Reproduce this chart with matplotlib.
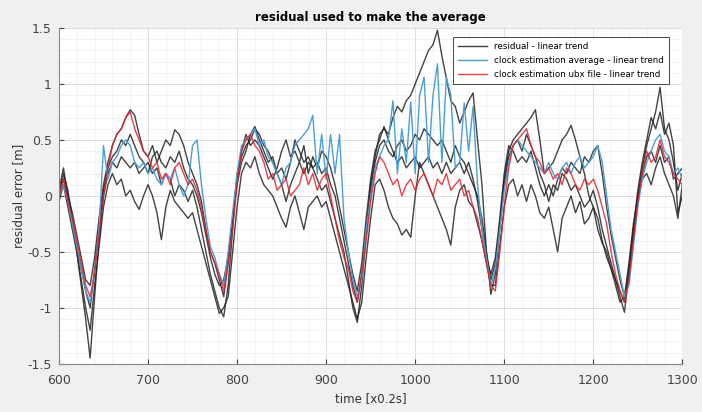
import numpy as np
import matplotlib
matplotlib.use("Agg")
import matplotlib.pyplot as plt
from matplotlib.ticker import MultipleLocator

# sample index (x0.2 s), every 5 samples
t = np.arange(600, 1301, 5)

# residual - linear trend (several runs)
res_a = [0.0, 0.2, 0.05, -0.2, -0.5, -0.8, -1.1, -1.45, -0.9, -0.4,
         0.0, 0.2, 0.3, 0.25, 0.35, 0.3, 0.25, 0.3, 0.2, 0.25,
         0.3, 0.2, 0.25, 0.1, 0.2, 0.15, 0.0, 0.1, 0.05, -0.05,
         0.05, -0.1, -0.3, -0.5, -0.7, -0.85, -1.0, -1.08, -0.8, -0.3,
         0.2, 0.35, 0.45, 0.5, 0.6, 0.55, 0.45, 0.4, 0.3, 0.2,
         0.1, -0.05, 0.1, 0.2, 0.3, 0.2, 0.3, 0.25, 0.15, 0.05,
         0.1, -0.05, -0.2, -0.35, -0.5, -0.75, -1.0, -1.13, -0.8, -0.35,
         0.1, 0.35, 0.55, 0.6, 0.55, 0.7, 0.8, 0.75, 0.85, 0.9,
         1.0, 1.1, 1.2, 1.3, 1.35, 1.48, 1.25, 1.05, 0.85, 0.8,
         0.65, 0.75, 0.85, 0.92, 0.5, 0.1, -0.5, -0.88, -0.7, -0.3,
         0.1, 0.35, 0.45, 0.5, 0.4, 0.55, 0.45, 0.35, 0.2, 0.1,
         -0.05, 0.1, 0.05, 0.2, 0.15, 0.05, 0.1, 0.0, -0.1, -0.05,
         0.05, -0.1, -0.3, -0.45, -0.6, -0.75, -0.9, -1.04, -0.7, -0.35,
         0.0, 0.25, 0.45, 0.6, 0.75, 0.97, 0.6, 0.5, 0.3, 0.05,
         0.2]
res_b = [0.05, 0.25, 0.0, -0.15, -0.35, -0.55, -0.75, -0.8, -0.55, -0.2,
         0.1, 0.3, 0.45, 0.55, 0.6, 0.7, 0.77, 0.72, 0.55, 0.4,
         0.35, 0.45, 0.3, 0.4, 0.5, 0.45, 0.59, 0.55, 0.45, 0.3,
         0.2, 0.1, -0.05, -0.3, -0.5, -0.6, -0.75, -0.9, -0.6, -0.2,
         0.1, 0.3, 0.4, 0.55, 0.62, 0.5, 0.4, 0.3, 0.35, 0.2,
         0.25, 0.15, 0.3, 0.5, 0.4, 0.3, 0.35, 0.25, 0.3, 0.2,
         0.25, 0.1, 0.0, -0.2, -0.4, -0.6, -0.8, -0.95, -0.7, -0.3,
         0.05, 0.3, 0.45, 0.5, 0.4, 0.35, 0.45, 0.5, 0.4, 0.45,
         0.55, 0.5, 0.6, 0.55, 0.5, 0.45, 0.5, 0.4, 0.3, 0.45,
         0.35, 0.3, 0.2, 0.1, 0.0, -0.2, -0.5, -0.75, -0.6, -0.25,
         0.15, 0.4, 0.5, 0.55, 0.6, 0.65, 0.7, 0.77, 0.5, 0.2,
         0.25, 0.3, 0.4, 0.5, 0.55, 0.63, 0.5, 0.35, 0.2, 0.0,
         -0.1, -0.2, -0.4, -0.55, -0.65, -0.75, -0.85, -0.95, -0.65, -0.3,
         0.05, 0.3, 0.5, 0.7, 0.6, 0.75, 0.55, 0.65, 0.45, -0.15,
         0.0]
res_c = [-0.05, 0.1, -0.1, -0.3, -0.5, -0.75, -1.0, -1.2, -0.8, -0.45,
         -0.1, 0.1, 0.2, 0.1, 0.15, 0.0, 0.05, -0.05, -0.12, 0.0,
         0.1, 0.0, -0.15, -0.39, -0.1, 0.05, -0.05, -0.1, -0.15, -0.2,
         -0.15, -0.3, -0.45, -0.6, -0.75, -0.9, -1.05, -1.0, -0.9, -0.5,
         -0.1, 0.2, 0.3, 0.25, 0.35, 0.2, 0.1, 0.05, 0.0, -0.1,
         -0.2, -0.28, -0.1, 0.0, -0.15, -0.3, -0.1, -0.05, 0.0, -0.1,
         -0.05, -0.2, -0.35, -0.5, -0.65, -0.8, -0.95, -1.1, -0.95, -0.55,
         -0.2, 0.1, 0.15, 0.05, -0.1, -0.2, -0.25, -0.35, -0.3, -0.37,
         0.0, 0.3, 0.2, 0.1, 0.0, -0.1, -0.2, -0.3, -0.44, -0.1,
         0.05, 0.1, -0.05, -0.1, -0.25, -0.4, -0.6, -0.8, -0.8, -0.45,
         -0.1, 0.1, 0.15, 0.0, 0.1, -0.05, 0.1, 0.0, -0.15, -0.2,
         -0.1, -0.3, -0.5, -0.2, -0.1, 0.0, -0.15, -0.05, -0.25, -0.2,
         -0.1, -0.3, -0.42, -0.5, -0.65, -0.8, -0.95, -0.9, -0.6, -0.25,
         0.0, 0.15, 0.2, 0.1, 0.25, 0.35, 0.2, 0.1, 0.0, -0.2,
         0.1]
res_d = [0.0, 0.15, 0.0, -0.25, -0.45, -0.65, -0.85, -1.0, -0.65, -0.3,
         0.05, 0.25, 0.35, 0.4, 0.5, 0.45, 0.55, 0.45, 0.35, 0.3,
         0.2, 0.35, 0.4, 0.3, 0.25, 0.35, 0.3, 0.4, 0.25, 0.15,
         0.1, 0.0, -0.15, -0.35, -0.55, -0.7, -0.8, -0.75, -0.55, -0.2,
         0.15, 0.4, 0.55, 0.45, 0.5, 0.45, 0.35, 0.25, 0.15, 0.25,
         0.4, 0.5, 0.35, 0.4, 0.3, 0.45, 0.2, 0.35, 0.25, 0.4,
         0.35, 0.25, 0.1, -0.1, -0.3, -0.5, -0.7, -0.85, -0.6, -0.2,
         0.15, 0.4, 0.5, 0.62, 0.5, 0.4, 0.3, 0.35, 0.25, 0.3,
         0.35, 0.25, 0.3, 0.35, 0.25, 0.3, 0.2, 0.3, 0.2, 0.25,
         0.3, 0.2, 0.3, 0.15, -0.05, -0.3, -0.55, -0.7, -0.55, -0.2,
         0.2, 0.45, 0.4, 0.3, 0.35, 0.3, 0.4, 0.25, 0.1, 0.0,
         0.1, 0.0, 0.15, 0.25, 0.2, 0.3, 0.25, 0.2, 0.35, 0.3,
         0.4, 0.45, 0.2, -0.1, -0.35, -0.55, -0.75, -0.9, -0.75, -0.4,
         -0.05, 0.2, 0.35, 0.4, 0.3, 0.45, 0.3, 0.35, 0.15, 0.2,
         0.25]

# clock estimation average - linear trend
avg = [0.0, 0.1, -0.05, -0.25, -0.45, -0.65, -0.85, -0.95, -0.7, -0.3,
       0.45, 0.15, 0.3, 0.35, 0.45, 0.5, 0.45, 0.3, 0.25, 0.3,
       0.2, 0.25, 0.15, 0.1, 0.2, 0.15, 0.25, 0.1, 0.0, 0.1,
       0.45, 0.5, 0.1, -0.2, -0.45, -0.55, -0.7, -0.8, -0.5, -0.15,
       0.2, 0.45, 0.5, 0.55, 0.6, 0.45, 0.5, 0.35, 0.3, 0.2,
       0.1, 0.25, 0.3, 0.45, 0.5, 0.55, 0.6, 0.72, 0.2, 0.55,
       0.15, 0.55, 0.2, 0.55, -0.2, -0.5, -0.75, -0.9, -0.75, -0.3,
       0.0, 0.25, 0.35, 0.45, 0.5, 0.85, 0.2, 0.6, 0.3, 0.84,
       0.2, 0.9, 1.06, 0.3, 0.9, 1.18, 0.3, 1.06, 0.9, 0.25,
       0.3, 0.83, 0.4, 0.8, 0.1, -0.3, -0.55, -0.8, -0.65, -0.3,
       0.05, 0.3, 0.45, 0.5, 0.45, 0.4, 0.35, 0.3, 0.25, 0.2,
       0.3, 0.2, 0.15, 0.25, 0.3, 0.2, 0.3, 0.35, 0.25, 0.3,
       0.35, 0.45, 0.3, 0.0, -0.3, -0.5, -0.7, -0.9, -0.8, -0.45,
       -0.1, 0.15, 0.3, 0.4, 0.5, 0.55, 0.4, 0.35, 0.2, 0.25,
       0.15]

# clock estimation ubx file - linear trend
ubx = [0.0, 0.15, -0.05, -0.2, -0.4, -0.6, -0.8, -0.9, -0.7, -0.35,
       0.0, 0.25, 0.45, 0.55, 0.6, 0.7, 0.75, 0.6, 0.5, 0.4,
       0.35, 0.25, 0.3, 0.15, 0.2, 0.1, 0.25, 0.3, 0.2, 0.1,
       0.15, 0.05, -0.1, -0.3, -0.5, -0.6, -0.7, -0.85, -0.6, -0.3,
       0.1, 0.4, 0.5, 0.55, 0.45, 0.4, 0.3, 0.15, 0.2, 0.05,
       0.1, 0.15, 0.0, 0.05, 0.1, 0.25, 0.1, 0.2, 0.05, 0.15,
       0.2, 0.0, -0.2, -0.4, -0.55, -0.65, -0.85, -0.95, -0.7, -0.4,
       -0.05, 0.2, 0.35, 0.3, 0.2, 0.1, 0.15, 0.0, 0.1, 0.15,
       0.05, 0.15, 0.2, 0.1, 0.0, 0.15, 0.1, 0.2, 0.05, 0.1,
       0.15, 0.0, 0.05, -0.1, -0.2, -0.4, -0.6, -0.8, -0.85, -0.5,
       -0.1, 0.25, 0.45, 0.5, 0.55, 0.6, 0.45, 0.35, 0.3, 0.2,
       0.25, 0.15, 0.2, 0.1, 0.25, 0.2, 0.1, 0.05, 0.15, 0.1,
       0.15, 0.05, -0.1, -0.25, -0.5, -0.7, -0.85, -0.95, -0.75, -0.4,
       -0.05, 0.2, 0.4, 0.3, 0.35, 0.5, 0.35, 0.3, 0.2, 0.15,
       0.1]

fig = plt.figure(figsize=(7.02, 4.12), dpi=100, facecolor='#f0f0f0')
ax = fig.add_axes([0.084, 0.117, 0.888, 0.815])
ax.set_facecolor('white')

black_runs = [res_a, res_b, res_c, res_d]
for i, r in enumerate(black_runs):
    ax.plot(t, r, color='#222222', lw=1.0, alpha=0.85,
            label='residual - linear trend' if i == 0 else None)
ax.plot(t, avg, color='#4a9fd8', lw=1.0, label='clock estimation average - linear trend')
ax.plot(t, ubx, color='#e8202a', lw=1.0, alpha=0.85, label='clock estimation ubx file - linear trend')

ax.set_xlim(600, 1300)
ax.set_ylim(-1.5, 1.5)
ax.xaxis.set_major_locator(MultipleLocator(100))
ax.xaxis.set_minor_locator(MultipleLocator(20))
ax.yaxis.set_minor_locator(MultipleLocator(0.1))
ax.set_yticks([-1.5, -1, -0.5, 0, 0.5, 1, 1.5])
ax.set_yticklabels(['-1.5', '-1', '-0.5', '0', '0.5', '1', '1.5'])
ax.grid(which='major', color='#d8d8d8', lw=0.6)
ax.grid(which='minor', color='#eeeeee', lw=0.5)
ax.set_axisbelow(True)
ax.tick_params(which='both', direction='in', colors='#444444', labelsize=9,
               top=False, right=False)
ax.tick_params(axis='x', pad=7)
ax.tick_params(axis='y', pad=5)
ax.tick_params(which='minor', length=0)
for s in ax.spines.values():
    s.set_color('#888888')
    s.set_linewidth(0.8)
ax.spines['top'].set_visible(False)
ax.spines['right'].set_visible(False)

ax.set_title('residual used to make the average', fontsize=8.5, fontweight='bold', pad=5)
ax.set_xlabel('time [x0.2s]', fontsize=8.5, color='#333333', labelpad=4)
ax.set_ylabel('residual error [m]', fontsize=8.5, color='#333333', labelpad=2)

leg = ax.legend(loc='upper right', fontsize=6.3, fancybox=False, framealpha=1,
                edgecolor='#444444', bbox_to_anchor=(0.985, 0.985),
                handlelength=3.4, borderpad=0.5, labelspacing=0.6)
leg.get_frame().set_linewidth(0.7)

fig.savefig('out.png', dpi=100, facecolor=fig.get_facecolor())
